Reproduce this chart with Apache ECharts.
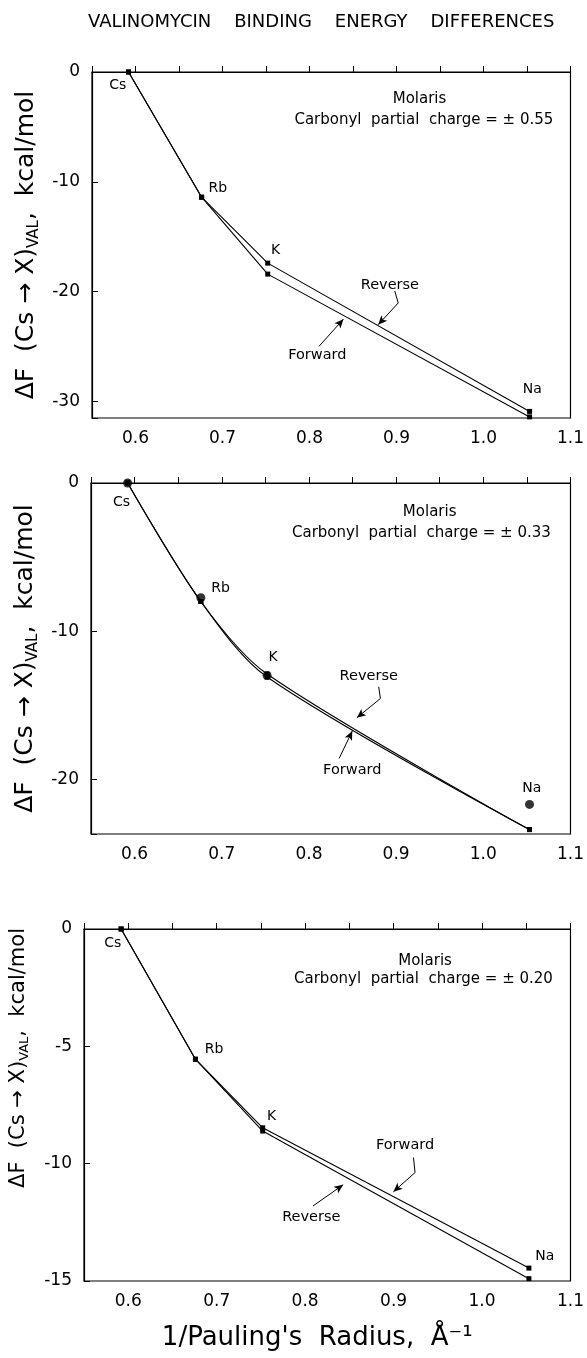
<!DOCTYPE html>
<html><head><meta charset="utf-8">
<script src="https://cdn.jsdelivr.net/npm/echarts@6/dist/echarts.min.js"></script>
<style>html,body{margin:0;padding:0;background:#fff}#c{width:587px;height:1358px}</style>
</head><body><div id="c"></div>
<script>
// ---------- data ----------
const ions = ['Cs', 'Rb', 'K', 'Na'];
const invRadius = [0.592, 0.676, 0.752, 1.053];          // 1/Pauling's radius, Å^-1

// panel 1: carbonyl partial charge ±0.55
const p1Forward = [0, -11.4, -18.4, -31.4];
const p1Reverse = [0, -11.4, -17.4, -30.9];
// panel 2: ±0.33
const p2Forward = [0, -8.0, -13.1, -23.4];
const p2Reverse = [0, -8.0, -12.9, -23.4];
const p2Circles = [0, -7.75, -13.0, -21.7];
// panel 3: ±0.20
const p3Forward = [0, -5.55, -8.47, -14.45];
const p3Reverse = [0, -5.55, -8.61, -14.9];

const charges = ['0.55', '0.33', '0.20'];
const yMins = [-31.5, -23.7, -15];
const ySteps = [10, 10, 5];
const xMin = 0.55, xMax = 1.1, xStep = 0.05;

// annotation anchors (data coordinates)
const p1IonLabelPos = [[0.5795, -1.2], [0.6947, -10.6], [0.761, -16.25], [1.056, -28.85]];
const p2IonLabelPos = [[0.585, -1.33], [0.6985, -7.12], [0.759, -11.78], [1.0557, -20.59]];
const p3IonLabelPos = [[0.5825, -0.63], [0.697, -5.14], [0.762, -8.0], [1.071, -13.97]];
const p1NotePos = [[0.9265, -2.48], [0.9315, -4.36]];
const p2NotePos = [[0.9385, -1.94], [0.929, -3.40]];
const p3NotePos = [[0.9356, -1.35], [0.9338, -2.13]];
const p1RevTextPos = [0.8924, -19.39], p1FwdTextPos = [0.809, -25.82];
const p2RevTextPos = [0.8686, -13.04], p2FwdTextPos = [0.8497, -19.39];
const p3FwdTextPos = [0.913, -9.21],  p3RevTextPos = [0.807, -12.3];
const p1RevArrow = [[0.898, -19.94], [0.902, -21.03], [0.879, -23.0]];
const p1FwdArrow = [[0.811, -24.97], [0.839, -22.5]];
const p2RevArrow = [[0.880, -13.76], [0.882, -14.55], [0.855, -15.85]];
const p2FwdArrow = [[0.8346, -18.6], [0.8497, -16.75]];
const p3FwdArrow = [[0.9225, -9.74], [0.9243, -10.38], [0.8998, -11.2]];
const p3RevArrow = [[0.809, -11.8], [0.843, -10.9]];

// ---------- option ----------
const FONT = '"DejaVu Sans", sans-serif';
const BLACK = '#000';
const grids = [
  {left: 92, top: 72, width: 480, height: 346},
  {left: 91, top: 483, width: 481, height: 351},
  {left: 83, top: 929, width: 488, height: 352}
].map(g => Object.assign({show: true, borderColor: BLACK, borderWidth: 1.2, backgroundColor: 'transparent'}, g));

const zip = vals => vals.map((v, i) => [invRadius[i], v]);

function xAxisFor(i, extra) {
  return Object.assign({
    type: 'value', gridIndex: i, min: xMin, max: xMax, interval: xStep,
    axisLine: {show: true, lineStyle: {color: BLACK, width: 1.2}},
    axisTick: {show: true, inside: true, length: 6, lineStyle: {color: BLACK, width: 1}},
    axisLabel: {color: BLACK, fontSize: 17, fontFamily: FONT, margin: 12,
      formatter: v => { const k = Math.round(v * 100); return k % 10 === 0 ? (k / 100).toFixed(1) : ''; }},
    splitLine: {show: false}
  }, extra || {});
}
function yAxisFor(i, nameSize, subSize, nameGap, padBottom) {
  const step = ySteps[i];
  return {
    type: 'value', gridIndex: i, min: yMins[i], max: 0, minInterval: step, maxInterval: step,
    axisLine: {show: true, lineStyle: {color: BLACK, width: 1.2}},
    axisTick: {show: true, inside: true, length: 6, lineStyle: {color: BLACK, width: 1}},
    axisLabel: {color: BLACK, fontSize: 17, fontFamily: FONT, margin: 12, showMinLabel: true,
      formatter: v => (Math.abs(v / step - Math.round(v / step)) < 1e-6 ? String(Math.round(v)) : '')},
    splitLine: {show: false},
    name: '{a|ΔF  (Cs → X)}{s|VAL}{a|,  kcal/mol}',
    nameLocation: 'middle', nameRotate: 90, nameGap: nameGap,
    nameTextStyle: {
      padding: [0, 0, 0, padBottom || 0],
      rich: {
        a: {fontSize: nameSize, fontFamily: FONT, color: BLACK, lineHeight: nameSize + 4},
        s: {fontSize: subSize, fontFamily: FONT, color: BLACK, lineHeight: subSize + 2, verticalAlign: 'bottom'}
      }
    }
  };
}

function lineSeries(i, vals, smooth) {
  return {
    type: 'line', xAxisIndex: i, yAxisIndex: i, data: zip(vals), smooth: smooth || false,
    symbol: 'rect', symbolSize: 5, showSymbol: true,
    lineStyle: {color: BLACK, width: 1.1}, itemStyle: {color: BLACK},
    emphasis: {disabled: true}, silent: true, z: 3
  };
}
function textSeries(i, items, fontSize) {
  return {
    type: 'scatter', xAxisIndex: i, yAxisIndex: i, symbol: 'circle', symbolSize: 1,
    itemStyle: {color: '#fff', opacity: 1}, silent: true, emphasis: {disabled: true}, z: 5,
    label: {show: true, position: 'inside', color: BLACK, opacity: 1, textBorderWidth: 0,
      fontSize: fontSize, fontFamily: FONT, fontWeight: 'normal',
      formatter: p => p.name},
    data: items.map(([name, pos]) => ({name: name, value: pos}))
  };
}
function arrowSeries(i, paths) {
  const segs = [];
  paths.forEach(pts => {
    for (let k = 0; k < pts.length - 1; k++) {
      const last = k === pts.length - 2;
      segs.push([{coord: pts[k], symbol: 'none'}, {coord: pts[k + 1], symbol: last ? 'arrow' : 'none', symbolSize: [6, 9]}]);
    }
  });
  return {
    type: 'scatter', xAxisIndex: i, yAxisIndex: i, data: [], silent: true,
    markLine: {silent: true, animation: false, symbol: ['none', 'none'], symbolSize: [6, 9],
      label: {show: false}, emphasis: {disabled: true},
      lineStyle: {color: BLACK, width: 1, type: 'solid'}, data: segs}
  };
}
function noteItems(pos, charge) {
  return [['Molaris', pos[0]], ['Carbonyl  partial  charge = ± ' + charge, pos[1]]];
}
const ionItems = pos => ions.map((n, k) => [n, pos[k]]);

const option = {
  animation: false,
  backgroundColor: '#fff',
  title: {text: 'VALINOMYCIN    BINDING    ENERGY    DIFFERENCES', left: 83, top: 8,
    textStyle: {fontSize: 18, fontWeight: 'normal', fontFamily: FONT, color: BLACK}},
  grid: grids,
  xAxis: [
    xAxisFor(0), xAxisFor(1),
    xAxisFor(2, {name: "1/Pauling's  Radius,  Å⁻¹", nameLocation: 'middle', nameGap: 44,
      nameTextStyle: {fontSize: 26, fontFamily: FONT, color: BLACK, padding: [0, 20, 0, 0]}})
  ],
  yAxis: [
    yAxisFor(0, 25, 15, 49, 0),
    yAxisFor(1, 25, 15, 49, 0),
    yAxisFor(2, 21, 13, 53, 94)
  ],
  series: [
    // panel 1
    lineSeries(0, p1Forward), lineSeries(0, p1Reverse),
    textSeries(0, ionItems(p1IonLabelPos), 14),
    textSeries(0, noteItems(p1NotePos, charges[0]), 15),
    textSeries(0, [['Reverse', p1RevTextPos], ['Forward', p1FwdTextPos]], 14.5),
    arrowSeries(0, [p1RevArrow, p1FwdArrow]),
    // panel 2
    lineSeries(1, p2Forward, 0.3), lineSeries(1, p2Reverse, 0.3),
    {type: 'scatter', xAxisIndex: 1, yAxisIndex: 1, data: zip(p2Circles), symbol: 'circle', symbolSize: 9,
      itemStyle: {color: BLACK}, silent: true, emphasis: {disabled: true}, z: 4},
    textSeries(1, ionItems(p2IonLabelPos), 14),
    textSeries(1, noteItems(p2NotePos, charges[1]), 15),
    textSeries(1, [['Reverse', p2RevTextPos], ['Forward', p2FwdTextPos]], 14.5),
    arrowSeries(1, [p2RevArrow, p2FwdArrow]),
    // panel 3
    lineSeries(2, p3Forward), lineSeries(2, p3Reverse),
    textSeries(2, ionItems(p3IonLabelPos), 14),
    textSeries(2, noteItems(p3NotePos, charges[2]), 15),
    textSeries(2, [['Forward', p3FwdTextPos], ['Reverse', p3RevTextPos]], 14.5),
    arrowSeries(2, [p3FwdArrow, p3RevArrow])
  ]
};
const chart = echarts.init(document.getElementById('c'), null, {renderer: 'canvas'});
chart.setOption(option);
</script>
</body></html>
